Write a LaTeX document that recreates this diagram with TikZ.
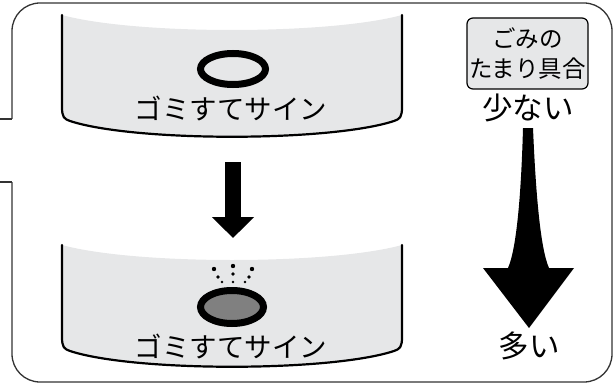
\documentclass[tikz,border=0pt]{standalone}
\usepackage{fontspec}
\setmainfont{Noto Sans CJK JP}
\usetikzlibrary{arrows.meta}
\definecolor{signgray}{HTML}{E6E7E8}
\definecolor{lampgray}{HTML}{808080}
\definecolor{framegray}{HTML}{333333}

\tikzstyle{frame} = [draw=framegray, line width=1.3pt]
\tikzstyle{panel} = [fill=signgray]
\tikzstyle{panelline} = [draw=black, line width=2.2pt, line cap=round]
\tikzstyle{signtext} = [font=\fontsize{27.5}{30}\selectfont, inner sep=0pt]
\tikzstyle{amount} = [font=\fontsize{30.5}{32}\selectfont, inner sep=0pt]
\tikzstyle{legend} = [rectangle, rounded corners=6pt, draw=black, line width=1.2pt, fill=signgray, minimum width=121pt, minimum height=71pt, align=center, font=\fontsize{23.5}{30}\selectfont, inner sep=0pt]
\tikzstyle{lamp} = [draw=black, line width=7pt]
\tikzstyle{arrow} = [line width=16pt, -{Triangle[width=41pt,length=21pt]}]

\begin{document}
\begin{tikzpicture}[x=1pt, y=-1pt]
			\useasboundingbox (0,0) rectangle (615,385);
			
			% outer frame with the two stubs on the left
			\draw [frame, rounded corners=28pt] (12,119) -- (12,3) -- (612,3) -- (612,382) -- (12,382) -- (12,182);
			\draw [frame] (0,119) -- (12,119);
			\draw [frame] (0,182) -- (12,182);
			
			% the two sign panels
			\foreach \dy in {0,230} {
				\fill [panel] (62,15+\dy) .. controls (135,35+\dy) and (329,35+\dy) .. (402,15+\dy)
					-- (402,107+\dy) .. controls (402,117+\dy) and (400,119+\dy) .. (394,121+\dy)
					.. controls (330,142+\dy) and (134,142+\dy) .. (70,121+\dy)
					.. controls (64,119+\dy) and (62,117+\dy) .. (62,107+\dy) -- cycle;
				\draw [panelline] (62,15+\dy) -- (62,107+\dy) .. controls (62,117+\dy) and (64,119+\dy) .. (70,121+\dy)
					.. controls (134,142+\dy) and (330,142+\dy) .. (394,121+\dy)
					.. controls (400,119+\dy) and (402,117+\dy) .. (402,107+\dy) -- (402,15+\dy);
			}
			
			% lamp off
			\draw [lamp] (233,69) ellipse [x radius=32.5, y radius=15.5];
			
			% lamp on, with the little sparks
			\draw [lamp, fill=lampgray] (232,307) ellipse [x radius=31.5, y radius=16.5];
			\foreach \px/\py/\r in {233/266/2.2, 214/269/2.2, 252/269/2.2, 218/277/1.8, 233/274/1.8, 249/277/1.8, 222/282/1.3, 233/282/1.3, 245/282/1.3}
				\fill (\px,\py) circle [radius=\r];
			
			\node (signoff) [signtext] at (231,108) {ゴミすてサイン};
			\node (signon) [signtext] at (231,346) {ゴミすてサイン};
			
			% change of the sign
			\coordinate (arrtop) at (233,162);
			\coordinate (arrtip) at (233,238);
			\draw [arrow] (arrtop) -- (arrtip);
			
			% amount of dust
			\node (level) [legend] at (527.5,53.5) {ごみの\\たまり具合};
			\node (few) [amount] at (528,108) {少ない};
			\node (many) [amount] at (529,346) {多い};
			\fill (523,128) -- (533,128) .. controls (536,200) and (541,250) .. (549,268) -- (574,268)
				-- (529,328) -- (483,268) -- (508,268) .. controls (516,250) and (521,200) .. (523,128) -- cycle;
			
		\end{tikzpicture}
\end{document}
